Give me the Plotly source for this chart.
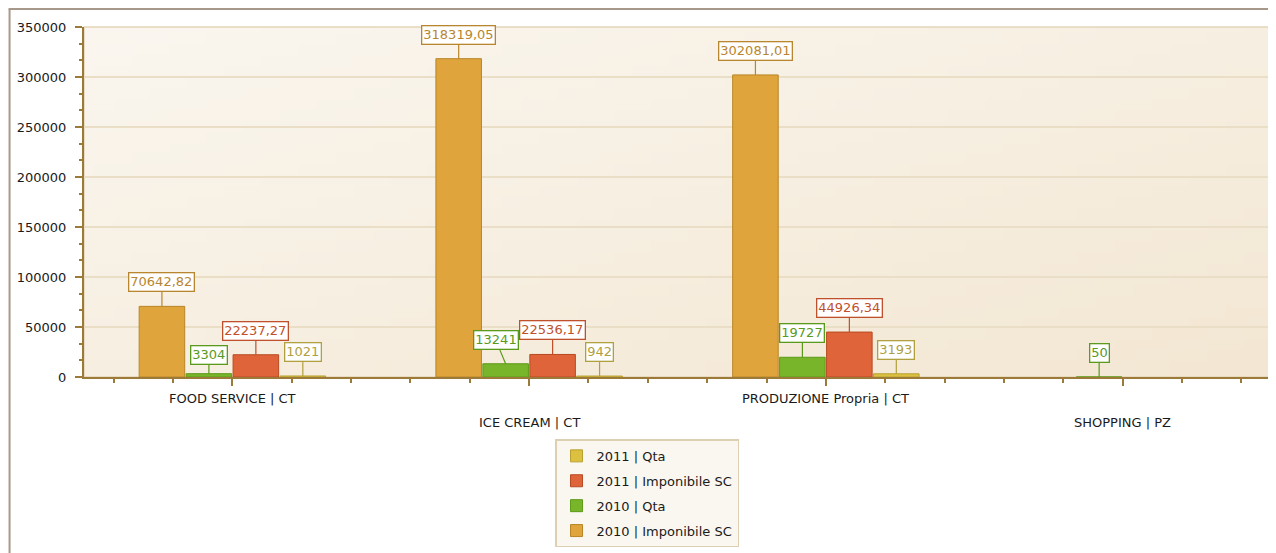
import base64, struct, zlib
import plotly.graph_objects as go

# ---------------- data ----------------
categories = ["FOOD SERVICE | CT", "ICE CREAM | CT", "PRODUZIONE Propria | CT", "SHOPPING | PZ"]
imponibile_2010 = [70642.82, 318319.05, 302081.01, None]
qta_2010 = [3304, 13241, 19727, 50]
imponibile_2011 = [22237.27, 22536.17, 44926.34, None]
qta_2011 = [1021, 942, 3193, None]

series_names = ["2010 | Imponibile SC", "2010 | Qta", "2011 | Imponibile SC", "2011 | Qta"]
series_values = [imponibile_2010, qta_2010, imponibile_2011, qta_2011]
legend_ranks = [4, 3, 2, 1]
y_ticks = [0, 50000, 100000, 150000, 200000, 250000, 300000, 350000]

# ---------------- style ----------------
FONT = "DejaVu Sans"
fill_colors = ["#dfa43c", "#79b52a", "#e0643a", "#dcc040"]
line_colors = ["#b88626", "#5c9a18", "#b84a22", "#b8a030"]
label_colors = ["#b8862e", "#5a9a1c", "#c0502c", "#b0a040"]
AXIS_COL = "#9c7a3a"
GRID_COL = "#ebdec6"

OFF = 8  # page body margin
W, H = 1268, 545
L, R, T, B = 75.5, 4.5, 19, 175.5
PW, PH = W - L - R, H - T - B
BARGAP, BARGROUPGAP = 0.367, 0.03
slot = (1 - BARGAP) / len(series_names)


def px_x(px):  # page pixel -> paper
    return (px - OFF - L) / PW


def px_y(py):
    return (H - B - (py - OFF)) / PH


def gradient_png(w, h, c0, c1):
    raw = b""
    for j in range(h):
        row = b"\x00"
        for i in range(w):
            t = (i / (w - 1) + j / (h - 1)) / 2
            row += bytes(int(round(c0[k] + (c1[k] - c0[k]) * t)) for k in range(3))
        raw += row

    def chunk(tag, data):
        c = struct.pack(">I", len(data)) + tag + data
        return c + struct.pack(">I", zlib.crc32(tag + data) & 0xFFFFFFFF)

    png = b"\x89PNG\r\n\x1a\n" + chunk(b"IHDR", struct.pack(">IIBBBBB", w, h, 8, 2, 0, 0, 0))
    png += chunk(b"IDAT", zlib.compress(raw, 9)) + chunk(b"IEND", b"")
    return "data:image/png;base64," + base64.b64encode(png).decode()


def fmt(v):
    if float(v).is_integer():
        return str(int(v))
    return f"{v:.2f}".replace(".", ",")


x_idx = list(range(len(categories)))

fig = go.Figure()
for k, (name, vals) in enumerate(zip(series_names, series_values)):
    fig.add_trace(go.Bar(
        x=x_idx, y=vals, name=name, legendgroup=name, legendrank=legend_ranks[k],
        marker=dict(color=fill_colors[k], line=dict(color=line_colors[k], width=1)),
    ))

# label nudges (px) to mimic collision avoidance in the original
nudge = {(1, 0): (0, -19), (1, 1): (-10, -24)}
annotations = []
for k, vals in enumerate(series_values):
    for i, v in enumerate(vals):
        if v is None:
            continue
        ax, ay = nudge.get((k, i), (0, -24))
        annotations.append(dict(
            x=i + (k - 1.5) * slot, y=v, xref="x", yref="y",
            text=fmt(v), showarrow=True, arrowhead=0, arrowwidth=1.2,
            arrowcolor=label_colors[k], ax=ax, ay=ay, standoff=0,
            bgcolor="white", bordercolor=label_colors[k], borderwidth=1.3, borderpad=1,
            font=dict(family=FONT, size=13, color=label_colors[k]),
        ))

# category labels, staggered in two rows
for i, c in enumerate(categories):
    annotations.append(dict(
        x=i, y=0, xref="x", yref="paper", text=c, showarrow=False,
        yanchor="middle", yshift=-21.5 if i % 2 == 0 else -45.5,
        font=dict(family=FONT, size=13, color="#1a1a1a"),
    ))

shapes = [
    # outer frame (left and top edges)
    dict(type="line", xref="paper", yref="paper", x0=px_x(9), x1=px_x(9),
         y0=px_y(9), y1=px_y(560), line=dict(color="#a8988a", width=2)),
    dict(type="line", xref="paper", yref="paper", x0=px_x(8), x1=px_x(1290),
         y0=px_y(9), y1=px_y(9), line=dict(color="#a8988a", width=2)),
    # plot area border
    dict(type="rect", xref="paper", yref="paper", x0=0, x1=1, y0=0, y1=1,
         line=dict(color="#e4d5b8", width=1.5), layer="below"),
]

fig.update_layout(
    width=W, height=H,
    margin=dict(l=L, r=R, t=T, b=B, pad=0),
    paper_bgcolor="white", plot_bgcolor="rgba(0,0,0,0)",
    barmode="group", bargap=BARGAP, bargroupgap=BARGROUPGAP,
    font=dict(family=FONT, size=13, color="#1a1a1a"),
    images=[dict(source=gradient_png(64, 32, (250, 246, 239), (243, 231, 211)),
                 xref="paper", yref="paper", x=0, y=1, sizex=1, sizey=1,
                 sizing="stretch", layer="below", xanchor="left", yanchor="top")],
    xaxis=dict(range=[-0.5, len(categories) - 0.5], tickvals=x_idx, showticklabels=False,
               ticks="outside", ticklen=7, tickwidth=1.5, tickcolor=AXIS_COL,
               showline=True, linecolor=AXIS_COL, linewidth=2, showgrid=False, zeroline=False,
               minor=dict(dtick=0.2, tick0=0, ticks="outside", ticklen=4, tickcolor=AXIS_COL,
                          tickwidth=1.5, showgrid=False)),
    yaxis=dict(range=[0, 350000], tickvals=y_ticks, tickformat="d",
               ticks="outside", ticklen=7, tickwidth=1.5, tickcolor=AXIS_COL,
               ticklabelstandoff=6,
               showline=True, linecolor=AXIS_COL, linewidth=2,
               showgrid=True, gridcolor=GRID_COL, gridwidth=1.5, zeroline=False,
               minor=dict(dtick=50000 / 3, tick0=0, ticks="outside", ticklen=3,
                          tickcolor=AXIS_COL, tickwidth=1.5, showgrid=False),
               tickfont=dict(family=FONT, size=13, color="#1a1a1a")),
    legend=dict(x=px_x(647), y=px_y(440), xanchor="center", yanchor="top",
                traceorder="grouped", tracegroupgap=5,
                bgcolor="#faf7f0", bordercolor="#dccfb2", borderwidth=1.5,
                font=dict(family=FONT, size=13, color="#1a1a1a")),
    showlegend=True,
    annotations=annotations,
    shapes=shapes,
)

fig.write_html("out.html")
